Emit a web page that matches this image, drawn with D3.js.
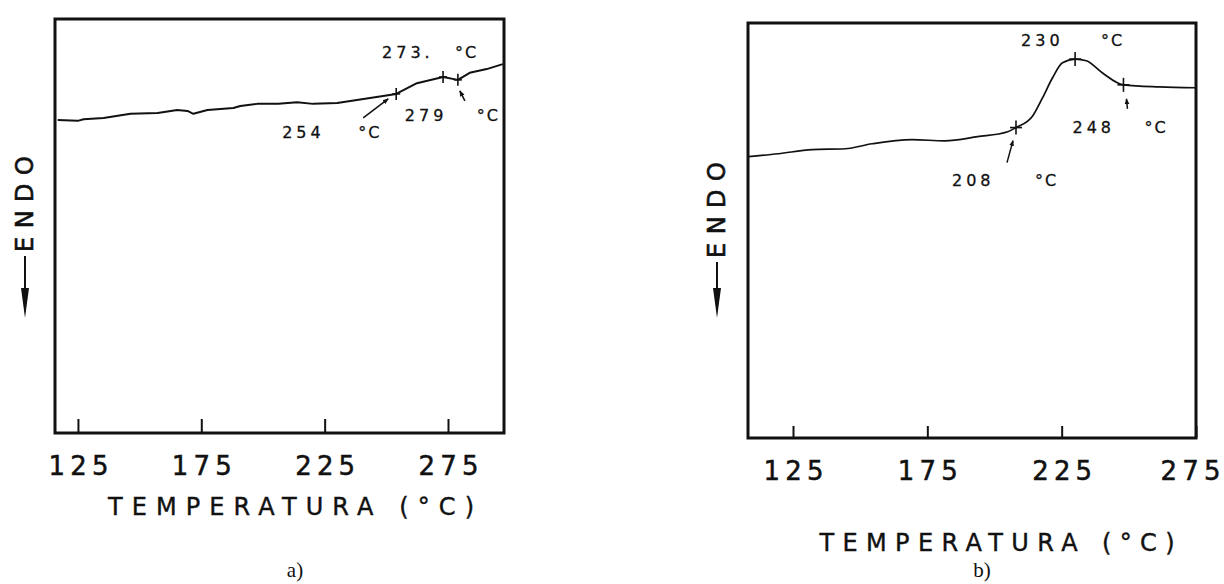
<!DOCTYPE html>
<html>
<head>
<meta charset="utf-8">
<script src="https://cdn.jsdelivr.net/npm/d3@7"></script>
<style>
  body { margin: 0; background: #fff; }
  svg { display: block; }
  text { fill: #111; }
</style>
</head>
<body>
<div id="chart"></div>
<script>
// Panel a) DSC trace (temperature in °C, signal in arbitrary units)
const tempsA = [116.8, 124.9, 127.3, 135.4, 146.3, 157.3, 165.3, 169.4, 171.8, 177.5, 188.0, 190.8, 197.7,
                206.2, 213.9, 220.3, 230.1, 243.4, 254, 262.4, 273, 279, 283.8, 290.7, 297.2];
const signalA = [75.6, 75.4, 75.8, 76.1, 77.1, 77.3, 78.0, 77.8, 77.1, 78.0, 78.5, 79.0, 79.5,
                 79.5, 79.9, 79.5, 79.7, 80.9, 81.9, 84.5, 86.0, 85.3, 87.0, 87.9, 89.1];
const markersA = [254, 273, 279];
const markerLabelsA = ['254', '273.', '279'];

// Panel b) DSC trace
const tempsB = [108.4, 119.5, 132.1, 144.4, 154.4, 169.3, 181.5, 193.7, 204.9, 208, 214.2, 217.9,
                221.6, 225.3, 230, 234.2, 240.1, 248, 261.3, 275];
const signalB = [67.8, 68.5, 69.5, 69.7, 70.9, 71.9, 71.6, 72.6, 73.8, 74.8, 77.6, 82.0,
                 86.8, 90.4, 91.3, 90.9, 88.0, 85.1, 84.6, 84.4];
const markersB = [208, 230, 248];
const markerLabelsB = ['208', '230', '248'];

const tickValues = [125, 175, 225, 275];
const xTitle = 'TEMPERATURA (°C)';
const yTitle = 'ENDO';
const unitLabel = '°C';

const width = 1224, height = 584;
const FONT = '"DejaVu Sans", Verdana, sans-serif';
const INK = '#111';

const svg = d3.select('#chart').append('svg')
    .attr('width', width)
    .attr('height', height);

// arrowhead used by the small annotation arrows
svg.append('defs').append('marker')
    .attr('id', 'head')
    .attr('viewBox', '0 0 10 10')
    .attr('refX', 9).attr('refY', 5)
    .attr('markerWidth', 4).attr('markerHeight', 4)
    .attr('orient', 'auto')
  .append('path')
    .attr('d', 'M0,1 L10,5 L0,9 Z')
    .attr('fill', INK);

// slightly heavier strokes on the lettering, like the stencil text of the scan
function ink(sel, w) {
    return sel.attr('stroke', INK).attr('stroke-width', w).attr('fill', INK);
}

function drawPanel(cfg) {
    const g = svg.append('g');
    const x = d3.scaleLinear().domain(cfg.xDomain).range([cfg.x0, cfg.x1]);
    const y = d3.scaleLinear().domain([0, 100]).range([cfg.y1, cfg.y0]);

    // frame
    g.append('rect')
        .attr('x', cfg.x0).attr('y', cfg.y0)
        .attr('width', cfg.x1 - cfg.x0).attr('height', cfg.y1 - cfg.y0)
        .attr('fill', 'none').attr('stroke', INK).attr('stroke-width', 3);

    // bottom axis with inward ticks
    const axis = g.append('g')
        .attr('transform', `translate(0,${cfg.y1})`)
        .call(d3.axisBottom(x).tickValues(tickValues).tickSize(-cfg.tickLen).tickPadding(0).tickFormat(d3.format('d')));
    axis.select('.domain').remove();
    axis.selectAll('.tick line').attr('stroke', INK).attr('stroke-width', 2);
    ink(axis.selectAll('.tick text'), 0.5)
        .attr('x', d => d === cfg.lastTickShiftAt ? cfg.lastTickShift : 0)
        .attr('y', 42).attr('dy', 0)
        .attr('font-family', FONT).attr('font-size', 26)
        .attr('textLength', 60).attr('lengthAdjust', 'spacing');
    axis.attr('font-family', null).attr('font-size', null);

    // x title
    ink(g.append('text'), 0.4)
        .attr('x', cfg.titleX).attr('y', cfg.titleY)
        .attr('text-anchor', 'middle')
        .attr('font-family', FONT).attr('font-size', 24)
        .attr('textLength', cfg.titleLen).attr('lengthAdjust', 'spacing')
        .text(xTitle);

    // ENDO with downward arrow
    ink(g.append('text'), 0.6)
        .attr('transform', `translate(${cfg.endoX},${cfg.endoY}) rotate(-90)`)
        .attr('text-anchor', 'middle').attr('dy', '0.36em')
        .attr('font-family', FONT).attr('font-size', 24)
        .attr('textLength', 96).attr('lengthAdjust', 'spacing')
        .text(yTitle);
    const ax = cfg.endoX + 1, top = cfg.endoY + 52, tip = cfg.arrowTip;
    g.append('line')
        .attr('x1', ax).attr('x2', ax).attr('y1', top).attr('y2', tip - 26)
        .attr('stroke', INK).attr('stroke-width', 2);
    g.append('path')
        .attr('d', `M${ax - 4},${tip - 30} L${ax + 4},${tip - 30} L${ax},${tip} Z`)
        .attr('fill', INK);

    // trace
    const pts = cfg.temps.map((t, i) => [t, cfg.signal[i]]);
    g.append('path')
        .datum(pts)
        .attr('fill', 'none')
        .attr('stroke', INK)
        .attr('stroke-width', cfg.lineW)
        .attr('stroke-linejoin', 'round')
        .attr('d', d3.line().x(d => x(d[0])).y(d => y(d[1])).curve(cfg.curve));

    // markers and annotations
    const valueAt = t => {
        const i = d3.bisector(d => d[0]).left(pts, t);
        if (i <= 0) return pts[0][1];
        if (i >= pts.length) return pts[pts.length - 1][1];
        const a = pts[i - 1], b = pts[i];
        return a[1] + (b[1] - a[1]) * (t - a[0]) / (b[0] - a[0]);
    };
    cfg.markers.forEach((t, i) => {
        const px = x(t), py = y(valueAt(t));
        const lay = cfg.layout[i];
        g.append('line')
            .attr('x1', px).attr('x2', px).attr('y1', py - cfg.mv).attr('y2', py + cfg.mv)
            .attr('stroke', INK).attr('stroke-width', 1.6);
        g.append('line')
            .attr('x1', px - cfg.mh).attr('x2', px + cfg.mh).attr('y1', py).attr('y2', py)
            .attr('stroke', INK).attr('stroke-width', 1.6);
        ink(g.append('text'), 0.3)
            .attr('x', px + lay.num[0]).attr('y', py + lay.num[1])
            .attr('font-family', FONT).attr('font-size', 16)
            .attr('letter-spacing', 4)
            .text(cfg.labels[i]);
        ink(g.append('text'), 0.3)
            .attr('x', px + lay.unit[0]).attr('y', py + lay.unit[1])
            .attr('font-family', FONT).attr('font-size', 16)
            .attr('letter-spacing', 2)
            .text(unitLabel);
        if (lay.arrow) {
            g.append('line')
                .attr('x1', px + lay.arrow[0]).attr('y1', py + lay.arrow[1])
                .attr('x2', px + lay.arrow[2]).attr('y2', py + lay.arrow[3])
                .attr('stroke', INK).attr('stroke-width', 1.5)
                .attr('marker-end', 'url(#head)');
        }
    });

    // caption
    g.append('text')
        .attr('x', cfg.capX).attr('y', 577)
        .attr('text-anchor', 'middle')
        .attr('font-family', '"Liberation Serif", "Times New Roman", serif')
        .attr('font-size', 21)
        .text(cfg.caption);
}

drawPanel({
    temps: tempsA, signal: signalA, markers: markersA, labels: markerLabelsA,
    xDomain: [115.7, 297.7], x0: 55, x1: 504, y0: 19, y1: 433,
    tickLen: 14, lineW: 2, curve: d3.curveLinear, mv: 6, mh: 4,
    titleX: 291, titleY: 515, titleLen: 366,
    endoX: 24, endoY: 204, arrowTip: 318, capX: 295, caption: 'a)',
    layout: [
        { num: [-114, 44], unit: [-38, 44], arrow: [-33, 24, -8, 5] },
        { num: [-61, -19], unit: [12, -19] },
        { num: [-53, 41], unit: [19, 41], arrow: [7, 21, 2, 11] }
    ]
});

drawPanel({
    temps: tempsB, signal: signalB, markers: markersB, labels: markerLabelsB,
    xDomain: [108.25, 275], x0: 748, x1: 1196, y0: 23, y1: 438,
    tickLen: 12, lineW: 1.7, curve: d3.curveMonotoneX, mv: 7, mh: 6,
    titleX: 997, titleY: 551, titleLen: 355,
    endoX: 716, endoY: 210, arrowTip: 318, capX: 982, caption: 'b)',
    lastTickShiftAt: 275, lastTickShift: -6,
    layout: [
        { num: [-64, 58], unit: [19, 58], arrow: [-9, 35, -3, 13] },
        { num: [-54, -13], unit: [26, -13] },
        { num: [-51, 48], unit: [21, 48], arrow: [4, 24, 3, 14] }
    ]
});
</script>
</body>
</html>
